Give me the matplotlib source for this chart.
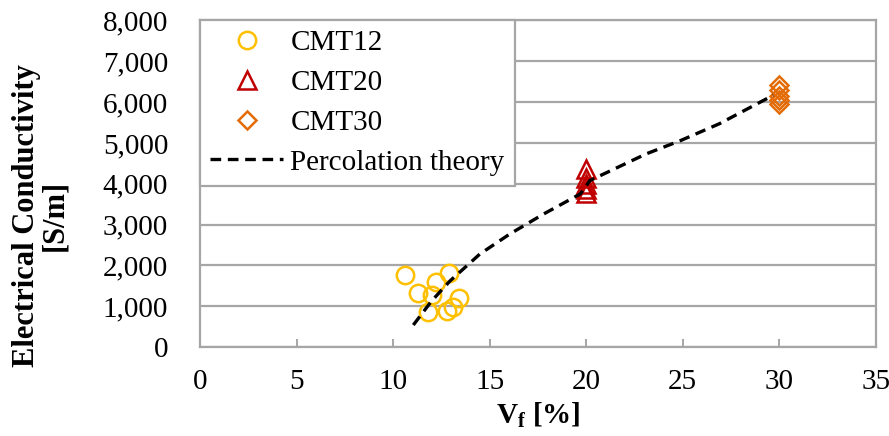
import matplotlib
matplotlib.use("Agg")
import matplotlib.pyplot as plt
from matplotlib.ticker import StrMethodFormatter

plt.rcParams['font.family'] = ['Liberation Serif', 'DejaVu Serif']
plt.rcParams['mathtext.fontset'] = 'custom'
plt.rcParams['mathtext.rm'] = 'Liberation Serif'
plt.rcParams['mathtext.bf'] = 'Liberation Serif:bold'
plt.rcParams['mathtext.it'] = 'Liberation Serif:italic'

# data
cmt12_x = [10.6, 11.3, 12.2, 12.9, 12.0, 11.8, 12.8, 13.4, 13.1]
cmt12_y = [1770, 1330, 1600, 1810, 1280, 870, 880, 1210, 980]

cmt20_x = [20, 20, 20, 20, 20]
cmt20_y = [4370, 4150, 4000, 3880, 3780]

cmt30_x = [30, 30, 30, 30, 30]
cmt30_y = [6420, 6300, 6150, 6050, 5950]

perc_x = [11.05, 12.0, 12.95, 14.5, 16.05, 17.8, 19.7, 20.2, 23.1, 24.9, 26.9, 29.7]
perc_y = [540, 1130, 1620, 2280, 2770, 3260, 3750, 4080, 4730, 5060, 5470, 6170]

FS = 21

fig = plt.figure(figsize=(8.89, 4.36), dpi=100)
ax = fig.add_axes([0.225, 0.204, 0.76, 0.749])

grid_c = '#A6A6A6'
ax.set_axisbelow(True)
ax.yaxis.grid(True, color=grid_c, linewidth=1.6)
for s in ax.spines.values():
    s.set_color(grid_c)
    s.set_linewidth(1.6)

ax.plot(cmt12_x, cmt12_y, 'o', ls='none', ms=12.5, mfc='none', mec='#FFC000', mew=1.8, label='CMT12')
ax.plot(cmt20_x, cmt20_y, '^', ls='none', ms=12.5, mfc='none', mec='#C00000', mew=1.8, label='CMT20')
ax.plot(cmt30_x, cmt30_y, 'D', ls='none', ms=9.5, mfc='none', mec='#E36C09', mew=1.8, label='CMT30')
ax.plot(perc_x, perc_y, color='black', lw=2.4, dashes=(3.2, 2.0), label='Percolation theory')

ax.set_xlim(0, 35)
ax.set_ylim(0, 8000)
ax.set_xticks(range(0, 36, 5))
ax.set_yticks(range(0, 8001, 1000))
ax.yaxis.set_major_formatter(StrMethodFormatter('{x:,.0f}'))
ax.tick_params(axis='x', direction='in', length=6, width=1.4, color=grid_c, labelsize=FS, pad=16)
ax.tick_params(axis='y', length=0, labelsize=FS, pad=23)

ax.set_xlabel(r'$\mathbf{V_f}$ [%]', fontsize=FS, fontweight='bold')
ax.xaxis.set_label_coords(0.5, -0.165)
ax.set_ylabel('Electrical Conductivity\n[S/m]', fontsize=22, fontweight='bold', linespacing=1.0)
ax.yaxis.set_label_coords(-0.193, 0.404)

leg = ax.legend(loc='upper left', bbox_to_anchor=(0.0, 1.003), fontsize=FS, frameon=True,
                fancybox=False, edgecolor=grid_c, framealpha=1, borderpad=0.35,
                handlelength=2.5, handletextpad=0.25, labelspacing=0.46, borderaxespad=0)
leg.get_frame().set_linewidth(1.6)

fig.savefig('out.png', dpi=100)
